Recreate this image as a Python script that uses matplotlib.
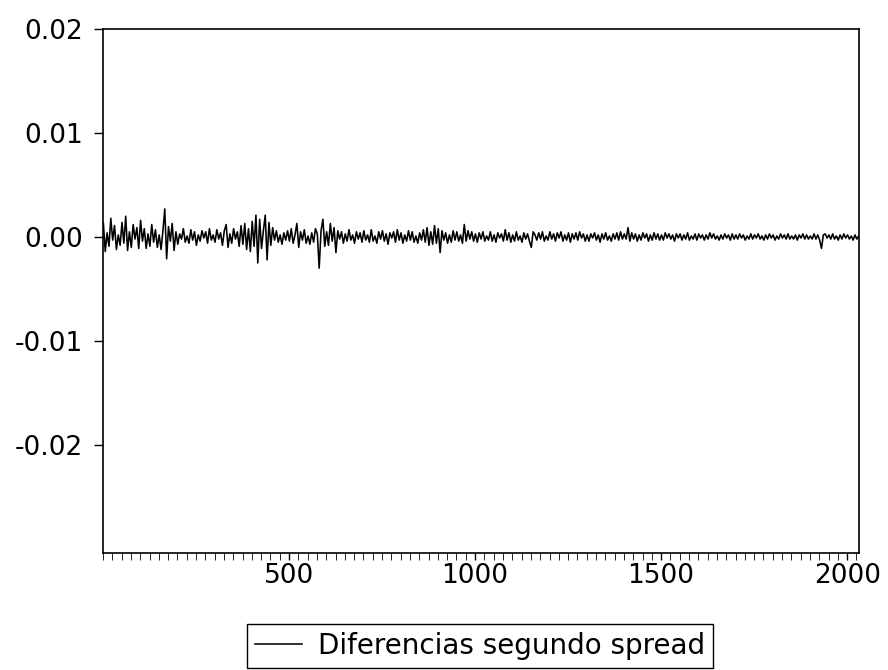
import matplotlib
matplotlib.use("Agg")
import matplotlib.pyplot as plt
from matplotlib.ticker import MultipleLocator, FormatStrFormatter
import numpy as np

plt.rcParams["font.family"] = ["DejaVu Sans"]

# second-difference of the spread, units of 1e-4, one value every 5 observations
step = 5
spread_diff = [
    13, -14, 4, -9, 18, -3, 11, -12, 2, -8, 14, -6, 20, -13, 5, -10, 12, -2, 9, -11,
    16, -4, 8, -11, 3, -9, 12, -5, 7, -10, 2, -12, 6, 27, -21, 10, -4, 13, -13, 5,
    -7, 3, -2, 8, -5, 1, -6, 7, -3, 5, -8, 2, -4, 6, -1, 5, -6, 8, -3, 2,
    -5, 7, -2, 4, -8, 6, 12, -10, 3, -6, 8, -2, 5, -9, 11, -7, 13, -12, 8, -14,
    15, -9, 21, -25, 17, -11, 6, 21, -22, 14, -8, 9, -3, 6, -5, 2, -7, 4, -3, 6,
    -4, 8, -6, 2, 13, -10, 5, -3, 7, -6, 1, -7, 4, -5, 8, 3, -30, 6, 17, -9,
    5, -8, 13, -4, 9, -15, 6, -2, 5, -6, 3, -4, 7, -3, 2, -6, 5, -2, 4, -5,
    6, -3, 2, -5, 7, -4, 1, -6, 5, -2, 6, -4, 3, -7, 4, -1, 5, -5, 7, -3,
    4, -6, 2, -4, 6, -3, 5, -5, 1, -6, 4, -3, 7, -5, 9, -8, 5, -7, 11, -6,
    8, -15, 6, -3, 4, -6, 2, -5, 6, -3, 5, -4, 2, -6, 12, -4, 6, -2, 5, -4,
    3, -5, 4, -2, 5, -4, 1, -3, 5, -4, 2, -5, 4, -1, 3, -4, 7, -3, 4, -5,
    2, -4, 5, -3, 1, -5, 4, -2, 3, -4, -10, 5, 2, -3, 4, -2, 5, -4, 1, -3,
    5, -2, 3, -4, 4, -1, 5, -4, 2, -3, 4, -5, 3, -2, 4, -3, 5, -1, 3, -4,
    2, -4, 3, -1, 4, -3, 2, -5, 3, -2, 4, -3, 1, -4, 3, -2, 4, -3, 5, -2,
    3, -2, 9, -4, 4, -2, 3, -4, 2, -3, 4, -1, 3, -4, 2, -3, 4, -2, 3, -3,
    2, -3, 4, -1, 3, -2, 2, -4, 3, -1, 3, -3, 2, -2, 4, -3, 1, -2, 3, -3,
    3, -1, 2, -3, 2, -2, 4, -1, 3, -2, 1, -3, 2, -2, 3, -1, 2, -3, 3, -2,
    2, -2, 3, -1, 2, -3, 1, -2, 3, -2, 2, -1, 3, -2, 1, -3, 2, -2, 3, -1,
    2, -3, 1, -2, 3, -1, 2, -2, 3, -2, 1, -2, 2, -3, 2, -1, 3, -2, 2, -2,
    1, -2, 3, -2, 2, -3, -11, 2, 3, -1, 2, -2, 3, -2, 1, -3, 2, -2, 3, -1,
    2, -2, 1, -3, 2, -2, 1,
]
y_ticks = [-0.02, -0.01, 0.00, 0.01, 0.02]
x_ticks = [500, 1000, 1500, 2000]
label = "Diferencias segundo spread"

y = np.array(spread_diff) * 1e-4
obs = 1 + step * np.arange(len(y))

fig = plt.figure(figsize=(8.88, 6.70), dpi=100)
ax = fig.add_axes([0.116, 0.1746, 0.851, 0.782])
ax.plot(obs, y, color="black", lw=1.15, label=label)

ax.set_xlim(0, obs[-1])
ax.set_ylim(-0.0304, 0.02)
ax.set_yticks(y_ticks)
ax.yaxis.set_major_formatter(FormatStrFormatter("%.2f"))
ax.set_xticks(x_ticks)
ax.xaxis.set_minor_locator(MultipleLocator(25))
ax.tick_params(axis="both", direction="out", labelsize=19, width=1, color="black")
ax.tick_params(axis="y", length=6.5, pad=8)
ax.tick_params(axis="x", which="both", length=5, pad=2)
for s in ax.spines.values():
    s.set_linewidth(1.2)

fig.legend(loc="center", bbox_to_anchor=(0.5405, 0.0358), fontsize=20,
           frameon=True, fancybox=False, edgecolor="black", framealpha=1,
           handlelength=1.7, borderpad=0.3, handletextpad=0.55)

fig.savefig("out.png", dpi=100, facecolor="white")
